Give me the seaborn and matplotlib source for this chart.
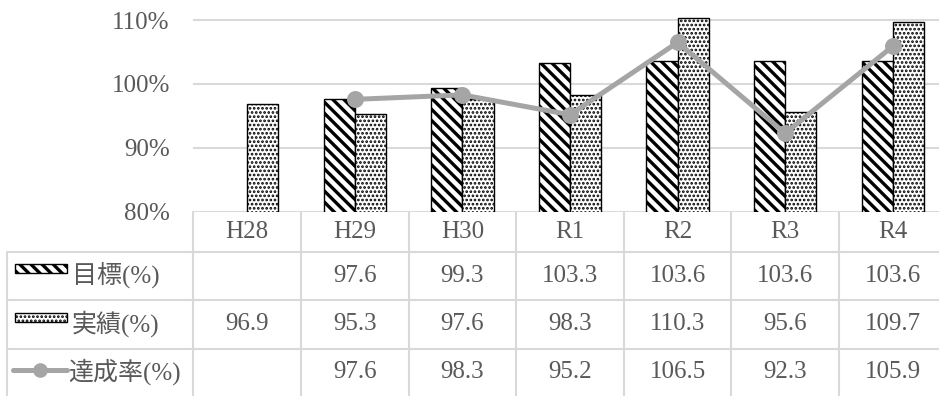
import numpy as np
import pandas as pd
import matplotlib
matplotlib.use("Agg")
import matplotlib.pyplot as plt
from matplotlib.patches import Rectangle
from matplotlib.lines import Line2D
from matplotlib.transforms import blended_transform_factory
import seaborn as sns

# ---- data -------------------------------------------------------------
years = ["H28", "H29", "H30", "R1", "R2", "R3", "R4"]
target = [np.nan, 97.6, 99.3, 103.3, 103.6, 103.6, 103.6]
actual = [96.9, 95.3, 97.6, 98.3, 110.3, 95.6, 109.7]
rate = [np.nan, 97.6, 98.3, 95.2, 106.5, 92.3, 105.9]
series_names = ["目標(%)", "実績(%)", "達成率(%)"]
yticks = [80, 90, 100, 110]

# ---- style ------------------------------------------------------------
sns.set_theme(style="white")
plt.rcParams["font.family"] = ["Liberation Serif", "Noto Sans CJK JP"]
plt.rcParams["hatch.linewidth"] = 2.4
plt.rcParams["hatch.color"] = "black"

TEXT = "#595959"
GRID = "#D9D9D9"
LINE = "#A5A5A5"
FS = 18
HATCH_T = "\\\\\\"
HATCH_A = "...."
LW_T, LW_A = 2.4, 1.3


def style_hatch(patch, hatch, lw):
    patch.set_hatch(hatch)
    if hasattr(patch, "set_hatch_linewidth"):
        patch.set_hatch_linewidth(lw)


W, H = 939, 396
fig = plt.figure(figsize=(W / 100, H / 100), dpi=100)

# full-figure overlay in pixel units for the data table
over = fig.add_axes([0, 0, 1, 1])
over.set_xlim(0, W)
over.set_ylim(H, 0)
over.axis("off")

# chart area
y_lo, y_hi = 80, 111
px_per_unit = 6.4
ax_bottom_px = 212
ax_top_px = ax_bottom_px - px_per_unit * (y_hi - y_lo)
ax_left_px, ax_right_px = 193.4, 946.6
ax = fig.add_axes([ax_left_px / W, (H - ax_bottom_px) / H,
                   (ax_right_px - ax_left_px) / W, (ax_bottom_px - ax_top_px) / H])
ax.patch.set_alpha(0)

bars = pd.DataFrame({
    "year": years * 2,
    "series": [series_names[0]] * len(years) + [series_names[1]] * len(years),
    "value": target + actual,
}).dropna()

sns.barplot(data=bars, x="year", y="value", hue="series", order=years,
            hue_order=series_names[:2], width=0.58, palette=["white", "white"],
            saturation=1, edgecolor="black", linewidth=1, legend=False, ax=ax)
for cont, hatch, lw in zip(ax.containers, [HATCH_T, HATCH_A], [LW_T, LW_A]):
    for p in cont:
        style_hatch(p, hatch, lw)

line_df = pd.DataFrame({"year": years, "value": rate})
sns.pointplot(data=line_df, x="year", y="value", order=years, color=LINE,
              markers="o", markersize=9.5, linewidth=3.6, errorbar=None, ax=ax)

ax.set_ylim(y_lo, y_hi)
ax.set_xlim(-0.5, len(years) - 0.5)
ax.set_yticks(yticks)
ax.set_yticklabels([f"{v}%" for v in yticks], fontsize=FS, color=TEXT)
ax.set_xticks([])
ax.set_xlabel("")
ax.set_ylabel("")
ax.tick_params(axis="y", length=0, pad=17)
ax.yaxis.grid(True, color=GRID, linewidth=1.5)
ax.set_axisbelow(True)
for s in ax.spines.values():
    s.set_visible(False)

# ---- data table ---------------------------------------------------------
trans = blended_transform_factory(ax.transData, over.transData)
header_y, row_ys = 232, [276, 324, 372]
row_lines = [252, 300, 349]

for y in row_lines:
    over.plot([7, W], [y, y], color=GRID, lw=1.5, solid_capstyle="butt")
over.plot([7, 7], [252, H], color=GRID, lw=1.5)
for b in np.arange(-0.5, len(years) - 1, 1.0):
    over.plot([b, b], [ax_bottom_px, H], color=GRID, lw=1.5, transform=trans)

for i, yr in enumerate(years):
    over.text(i, header_y, yr, transform=trans, ha="center", va="center",
              fontsize=FS, color=TEXT)

for vals, ry in zip([target, actual, rate], row_ys):
    for i, v in enumerate(vals):
        if not np.isnan(v):
            over.text(i, ry, f"{v:.1f}", transform=trans, ha="center",
                      va="center", fontsize=FS, color=TEXT)

# row headers with legend keys
key_t = Rectangle((15, 264), 52, 9, facecolor="white", edgecolor="black", lw=1)
key_a = Rectangle((15, 313), 52, 9, facecolor="white", edgecolor="black", lw=1)
style_hatch(key_t, HATCH_T, LW_T)
style_hatch(key_a, HATCH_A, LW_A)
over.add_patch(key_t)
over.add_patch(key_a)
over.add_line(Line2D([13, 67], [370, 370], color=LINE, lw=3.6))
over.add_line(Line2D([40], [370], color=LINE, marker="o", markersize=9.5, lw=0))

over.text(72, row_ys[0], series_names[0], ha="left", va="center", fontsize=FS, color=TEXT)
over.text(72, row_ys[1], series_names[1], ha="left", va="center", fontsize=FS, color=TEXT)
over.text(68, row_ys[2], series_names[2], ha="left", va="center", fontsize=FS, color=TEXT)

fig.savefig("out.png", dpi=100)
